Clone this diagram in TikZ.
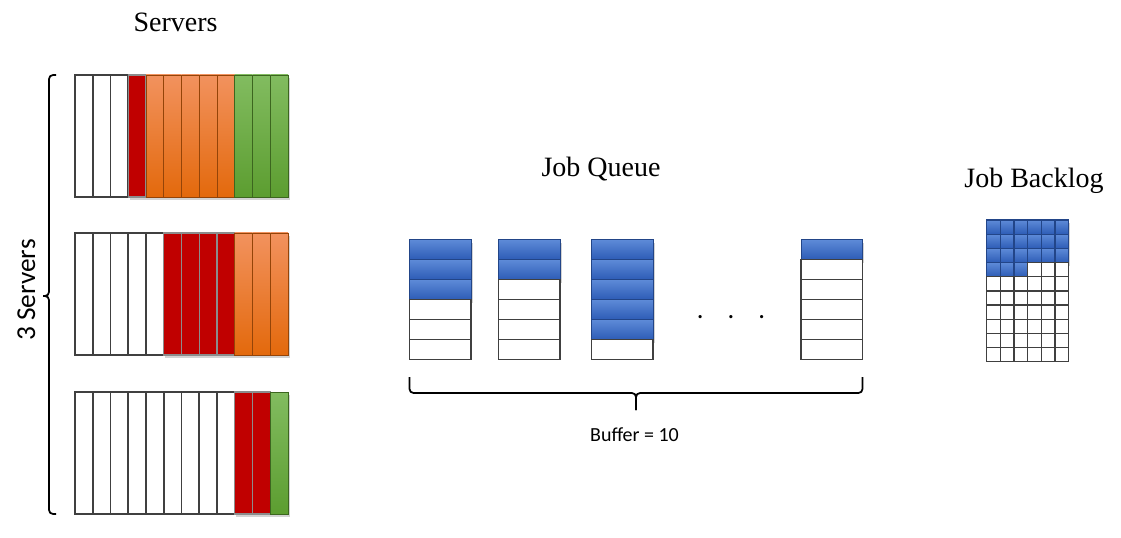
\documentclass[tikz,border=0pt]{standalone}
\usepackage{fontspec}
\setmainfont{Liberation Serif}
\newfontfamily\calibri{Carlito}
\usetikzlibrary{shadows}

\definecolor{gridgray}{HTML}{404040}
\definecolor{redfill}{HTML}{C00000}
\definecolor{orangetop}{HTML}{F2925E}
\definecolor{orangemid}{HTML}{F5812D}
\definecolor{orangebot}{HTML}{E3690C}
\definecolor{greentop}{HTML}{82BC60}
\definecolor{greenbot}{HTML}{5C9D30}
\definecolor{bluetop}{HTML}{5E8BD8}
\definecolor{bluebot}{HTML}{2D5CB6}

\begin{document}
\begin{tikzpicture}[
  x=0.75pt, y=-0.75pt,
  title/.style={font=\fontsize{21}{25}\selectfont, inner sep=0pt},
  sanslbl/.style={font=\calibri\fontsize{15}{18}\selectfont, inner sep=0pt},
  slotempty/.style={draw=gridgray, line width=1.3pt, fill=white},
  slotshadow/.style={drop shadow={opacity=.35, shadow xshift=1.2pt, shadow yshift=-2.6pt}},
  slotred/.style={slotshadow, fill=redfill, draw=black!45, line width=.8pt},
  slotorange/.style={slotshadow, top color=orangetop, middle color=orangemid,
    bottom color=orangebot, draw=orangebot!65!black, line width=.6pt},
  slotgreen/.style={slotshadow, top color=greentop, bottom color=greenbot,
    draw=greenbot!65!black, line width=.6pt},
  jobblue/.style={slotshadow, top color=bluetop, bottom color=bluebot,
    draw=bluebot!75!black, line width=.5pt},
  bracepath/.style={draw=black, line width=1.3pt, rounded corners=3pt}
]
\useasboundingbox (0,0) rectangle (1121,538);

% =============================================================
% servers: 12 slots each, white / red / orange / green runs
% =============================================================
\node[title, anchor=base] (srvtitle) at (175.5,32) {Servers};

\foreach \ytop/\a/\b/\c in {75/3/4/9, 233/5/9/12, 392/9/11/11} {
  \foreach \i in {0,...,11} {
    \ifnum\i<\a \def\slotsty{slotempty}\else
    \ifnum\i<\b \def\slotsty{slotred}\else
    \ifnum\i<\c \def\slotsty{slotorange}\else
    \def\slotsty{slotgreen}\fi\fi\fi
    \draw[\slotsty] ({75+\i*17.75},\ytop) rectangle ++(17.75,122);
  }
}

% brace on the left
\coordinate (srvtop) at (56,75);
\coordinate (srvbot) at (56,514);
\coordinate (srvmid) at (49,296);
\coordinate (srvtip) at (43,296);
\draw[bracepath] (srvtop) -| (srvmid) -- (srvtip);
\draw[bracepath] (srvbot) -| (srvmid) -- (srvtip);

\node[sanslbl, font=\calibri\fontsize{20.5}{24}\selectfont, rotate=90, anchor=base]
  (srvcount) at (35,290) {3 Servers};

% =============================================================
% job queue: 6 slots per column
% =============================================================
\node[title, anchor=base] (queuetitle) at (601,177) {Job Queue};

\foreach \qx/\nb in {409.5/3, 498.5/2, 591.5/5, 801/1} {
  \foreach \r in {0,...,5} {
    \ifnum\r<\nb \def\slotsty{jobblue}\else\def\slotsty{slotempty}\fi
    \draw[\slotsty] (\qx,{239.5+\r*20}) rectangle ++(61.5,20);
  }
}

\node[sanslbl, font=\calibri\fontsize{20}{24}\selectfont, anchor=base]
  (qdots) at (731,318.5) {.\hspace{18pt}.\hspace{18pt}.};

% brace under the queue
\coordinate (bufleft) at (409.5,377);
\coordinate (bufright) at (862.5,377);
\coordinate (bufmid) at (636,393);
\coordinate (buftip) at (636,410);
\draw[bracepath] (bufleft) |- (bufmid) -- (buftip);
\draw[bracepath] (bufright) |- (bufmid) -- (buftip);

\node[sanslbl, anchor=base] (buflbl) at (634.5,441) {Buffer = 10};

% =============================================================
% job backlog: 6 x 10 grid, first 21 cells filled
% =============================================================
\node[title, anchor=base] (backlogtitle) at (1034,188) {Job Backlog};

\foreach \r in {0,...,9} {
  \foreach \cc in {0,...,5} {
    \pgfmathtruncatemacro\n{\r*6+\cc}
    \ifnum\n<21 \def\slotsty{jobblue}\else\def\slotsty{slotempty}\fi
    \draw[\slotsty, line width=1pt] ({986.5+\cc*13.67},{220+\r*14.17}) rectangle ++(13.67,14.17);
  }
}

\end{tikzpicture}
\end{document}
